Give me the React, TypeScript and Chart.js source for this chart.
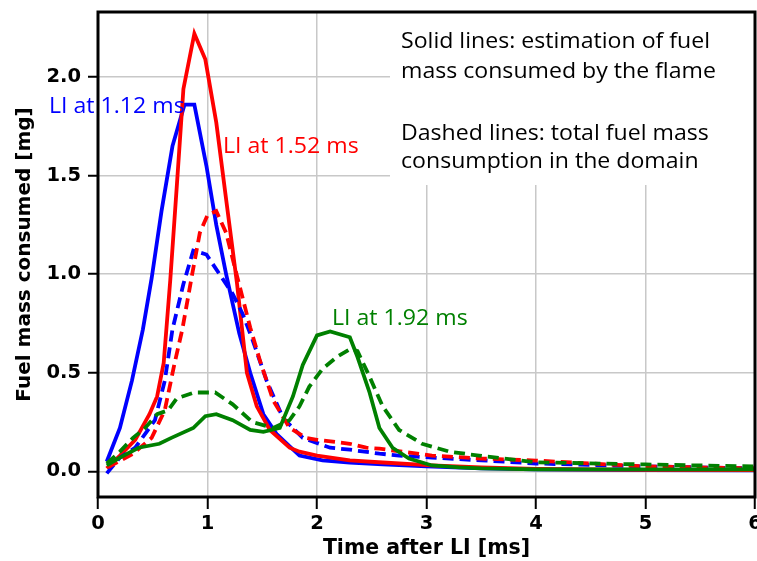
import React, { useEffect, useRef } from "react";
import { Chart, registerables } from "chart.js";

Chart.register(...registerables);

// ---- Data ----
const blueSolidX = [0.08, 0.2, 0.31, 0.41, 0.49, 0.58, 0.68, 0.79, 0.88, 0.99, 1.08, 1.17, 1.29, 1.39, 1.51, 1.63, 1.84, 2.05, 2.3, 2.6, 3.0, 3.5, 4, 5, 6];
const blueSolidY = [0.05, 0.22, 0.46, 0.72, 0.98, 1.32, 1.65, 1.86, 1.86, 1.55, 1.25, 1.0, 0.7, 0.5, 0.29, 0.19, 0.08, 0.056, 0.045, 0.035, 0.025, 0.015, 0.01, 0.006, 0.005];

const blueDashedX = [0.08, 0.2, 0.34, 0.52, 0.61, 0.68, 0.78, 0.87, 0.99, 1.11, 1.23, 1.32, 1.41, 1.54, 1.69, 1.87, 2.12, 2.3, 2.57, 2.75, 3.05, 3.5, 4, 5, 6];
const blueDashedY = [-0.01, 0.07, 0.12, 0.26, 0.46, 0.72, 0.95, 1.12, 1.1, 1.0, 0.9, 0.8, 0.67, 0.46, 0.27, 0.17, 0.12, 0.11, 0.09, 0.08, 0.07, 0.056, 0.04, 0.025, 0.015];

const redSolidX = [0.08, 0.2, 0.34, 0.47, 0.54, 0.6, 0.66, 0.72, 0.78, 0.88, 0.98, 1.08, 1.17, 1.27, 1.36, 1.45, 1.57, 1.75, 1.84, 2.0, 2.3, 2.6, 3.05, 3.5, 4, 5, 6];
const redSolidY = [0.015, 0.08, 0.16, 0.29, 0.38, 0.55, 0.97, 1.45, 1.94, 2.22, 2.09, 1.77, 1.38, 0.95, 0.5, 0.33, 0.21, 0.12, 0.1, 0.08, 0.056, 0.045, 0.03, 0.02, 0.012, 0.008, 0.006];

const redDashedX = [0.09, 0.32, 0.49, 0.61, 0.7, 0.77, 0.86, 0.93, 1.0, 1.08, 1.17, 1.27, 1.39, 1.48, 1.6, 1.75, 1.9, 2.0, 2.3, 2.45, 2.57, 3.05, 3.5, 4, 5, 6];
const redDashedY = [0.02, 0.09, 0.17, 0.31, 0.55, 0.72, 1.0, 1.21, 1.3, 1.32, 1.21, 0.99, 0.73, 0.56, 0.36, 0.22, 0.17, 0.16, 0.14, 0.12, 0.115, 0.08, 0.065, 0.055, 0.025, 0.015];

const greenSolidX = [0.08, 0.2, 0.37, 0.56, 0.67, 0.87, 0.98, 1.08, 1.23, 1.39, 1.51, 1.66, 1.78, 1.87, 2.0, 2.12, 2.3, 2.37, 2.48, 2.57, 2.69, 2.84, 3.05, 3.3, 3.5, 4, 5, 6];
const greenSolidY = [0.03, 0.07, 0.12, 0.14, 0.17, 0.22, 0.28, 0.29, 0.26, 0.21, 0.2, 0.22, 0.38, 0.54, 0.69, 0.71, 0.68, 0.58, 0.4, 0.22, 0.12, 0.065, 0.03, 0.02, 0.015, 0.01, 0.01, 0.01];

const greenDashedX = [0.08, 0.2, 0.32, 0.43, 0.54, 0.64, 0.72, 0.88, 1.07, 1.23, 1.41, 1.6, 1.75, 1.84, 1.93, 2.05, 2.18, 2.3, 2.37, 2.48, 2.6, 2.75, 2.96, 3.21, 3.48, 4, 5, 6];
const greenDashedY = [0.04, 0.1, 0.17, 0.22, 0.29, 0.31, 0.37, 0.4, 0.4, 0.34, 0.25, 0.22, 0.26, 0.33, 0.43, 0.52, 0.58, 0.62, 0.61, 0.48, 0.33, 0.21, 0.14, 0.1, 0.08, 0.046, 0.035, 0.025];

const xTicks = [0, 1, 2, 3, 4, 5, 6];
const yTicks = [0, 0.5, 1.0, 1.5, 2.0];

const noteLines = [
  "Solid lines: estimation of fuel",
  "mass consumed by the flame",
  "Dashed lines: total fuel mass",
  "consumption in the domain",
];
const seriesLabels = ["LI at 1.12 ms", "LI at 1.52 ms", "LI at 1.92 ms"];

const BLUE = "#0000ff";
const RED = "#ff0000";
const GREEN = "#008000";

function pts(xs: number[], ys: number[]) {
  return xs.map((x, i) => ({ x, y: ys[i] }));
}

function stretchedText(ctx: CanvasRenderingContext2D, text: string, x: number, y: number) {
  ctx.save();
  ctx.translate(x, y);
  ctx.scale(1.1, 1);
  ctx.fillText(text, 0, 0);
  ctx.restore();
}

const overlayPlugin = {
  id: "overlay",
  beforeDatasetsDraw(chart: any) {
    const { ctx, chartArea } = chart;
    ctx.save();
    ctx.fillStyle = "#ffffff";
    ctx.fillRect(390, chartArea.top + 1, chartArea.right - 1 - 390, 185 - chartArea.top - 1);
    ctx.restore();
  },
  afterDatasetsDraw(chart: any) {
    const { ctx } = chart;
    ctx.save();
    ctx.font = "21px 'Open Sans'";
    ctx.textBaseline = "alphabetic";
    ctx.textAlign = "left";
    ctx.fillStyle = "#000";
    const baselines = [48, 78, 140, 168];
    noteLines.forEach((t, i) => stretchedText(ctx, t, 401, baselines[i]));
    ctx.fillStyle = BLUE;
    stretchedText(ctx, seriesLabels[0], 49, 113);
    ctx.fillStyle = RED;
    stretchedText(ctx, seriesLabels[1], 223, 153);
    ctx.fillStyle = GREEN;
    stretchedText(ctx, seriesLabels[2], 332, 325);
    ctx.restore();
  },
  afterDraw(chart: any) {
    const { ctx, chartArea } = chart;
    ctx.save();
    ctx.strokeStyle = "#000";
    ctx.lineWidth = 3;
    ctx.strokeRect(chartArea.left, chartArea.top, chartArea.right - chartArea.left, chartArea.bottom - chartArea.top);
    ctx.restore();
  },
};

export default function App() {
  const ref = useRef<HTMLCanvasElement | null>(null);
  useEffect(() => {
    if (!ref.current) return;
    const solid = (data: any, color: string) => ({
      data,
      borderColor: color,
      backgroundColor: color,
      borderWidth: 3.8,
      pointRadius: 0,
      tension: 0,
      fill: false,
    });
    const dashed = (data: any, color: string) => ({
      ...solid(data, color),
      borderDash: [11, 6],
    });
    const zeroPad = (s: any) => {
      s.paddingTop = 0;
      s.paddingBottom = 0;
      s.paddingLeft = 0;
      s.paddingRight = 0;
    };
    const chart = new Chart(ref.current, {
      type: "line",
      data: {
        datasets: [
          dashed(pts(greenDashedX, greenDashedY), GREEN),
          solid(pts(greenSolidX, greenSolidY), GREEN),
          dashed(pts(redDashedX, redDashedY), RED),
          dashed(pts(blueDashedX, blueDashedY), BLUE),
          solid(pts(redSolidX, redSolidY), RED),
          solid(pts(blueSolidX, blueSolidY), BLUE),
        ] as any,
      },
      options: {
        animation: false,
        responsive: false,
        maintainAspectRatio: false,
        devicePixelRatio: 1,
        layout: { padding: { top: 12, right: 2, left: 0, bottom: 0 } },
        plugins: { legend: { display: false }, tooltip: { enabled: false } },
        scales: {
          x: {
            type: "linear",
            min: 0,
            max: 6,
            afterFit: (s: any) => {
              s.height = 64;
              zeroPad(s);
            },
            afterBuildTicks: (s: any) => {
              s.ticks = xTicks.map((v) => ({ value: v }));
            },
            border: { display: false },
            grid: { color: "#c8c8c8", lineWidth: 1.5, tickColor: "#000", tickLength: 12, tickWidth: 2 },
            ticks: {
              font: { family: "DejaVu Sans", weight: "bold", size: 19.5 },
              color: "#000",
              padding: 3,
              maxRotation: 0,
              callback: (v: any) => String(v),
            },
            title: {
              display: true,
              text: "Time after LI [ms]",
              font: { family: "DejaVu Sans", weight: "bold", size: 20.5 },
              color: "#000",
              padding: { top: 0, bottom: 0 },
            },
          },
          y: {
            type: "linear",
            min: -0.13,
            max: 2.33,
            afterFit: (s: any) => {
              s.width = 98;
              zeroPad(s);
            },
            afterBuildTicks: (s: any) => {
              s.ticks = yTicks.map((v) => ({ value: v }));
            },
            border: { display: false },
            grid: { color: "#c8c8c8", lineWidth: 1.5, tickColor: "#000", tickLength: 10, tickWidth: 2 },
            ticks: {
              font: { family: "DejaVu Sans", weight: "bold", size: 19.5 },
              color: "#000",
              padding: 7,
              callback: (v: any) => Number(v).toFixed(1),
            },
            title: {
              display: true,
              text: "Fuel mass consumed [mg]",
              font: { family: "DejaVu Sans", weight: "bold", size: 20 },
              color: "#000",
              padding: { top: 13, bottom: 0 },
            },
          },
        },
      } as any,
      plugins: [overlayPlugin],
    });
    return () => chart.destroy();
  }, []);
  return (
    <div style={{ position: "absolute", left: 0, top: 0, width: 757, height: 561, background: "#fff" }}>
      <canvas ref={ref} width={757} height={561} style={{ display: "block", width: 757, height: 561 }} />
    </div>
  );
}
